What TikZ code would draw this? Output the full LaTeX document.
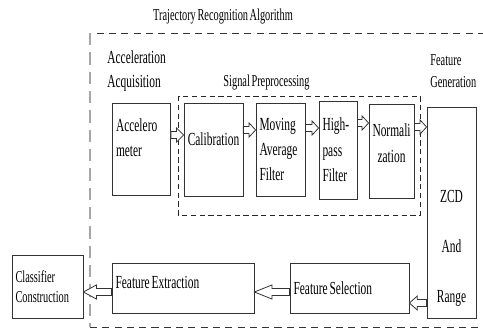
\documentclass[tikz,border=0pt]{standalone}
\usepackage{fontspec}
\setmainfont{Liberation Serif}[FakeStretch=0.62,WordSpace=0.62]
\usetikzlibrary{calc}
\tikzset{
  procbox/.style={draw=black!80,line width=0.45pt,fill=white,inner xsep=2pt,
                  inner ysep=2pt,font=\fontsize{10.5pt}{14.5pt}\selectfont,
                  execute at begin node={\spaceskip=0pt\xspaceskip=0pt\relax}},
  grouplabel/.style={inner sep=0pt,align=left,
                     font=\fontsize{9.5pt}{12.5pt}\selectfont},
  outerdash/.style={line width=0.55pt,draw=black!80,dash pattern=on 4pt off 3pt},
  innerdash/.style={line width=0.45pt,draw=black!85,dash pattern=on 3pt off 2pt},
  blockarr/.style={draw=black!80,fill=white,line width=0.45pt,
    to path={let \p1=(\tikztostart),\p2=(\tikztotarget),
      \n1={veclen(\x2-\x1,\y2-\y1)},\n2={atan2(\y2-\y1,\x2-\x1)} in
      {[shift={(\p1)},rotate=\n2]
       (0pt,2pt) -- (\n1-#1,2pt) -- (\n1-#1,4pt) -- (\n1,0pt)
       -- (\n1-#1,-4pt) -- (\n1-#1,-2pt) -- (0pt,-2pt) -- cycle}}},
  blockarr/.default=3.7pt
}

\begin{document}
\begin{tikzpicture}[x=0.02cm,y=-0.02cm]
    \useasboundingbox (0,0) rectangle (483,335);

    % frames
    \draw[outerdash] (485,33) -- (90,33);
    \draw[outerdash,draw=gray!70,line width=0.8pt,dash pattern=on 7pt off 4pt]
      (90,33) -- (90,327);
    \draw[outerdash] (90,327) -- (485,327);
    \draw[innerdash] (178,96) rectangle (420,215);

    \node[grouplabel,font=\fontsize{9.5pt}{12pt}\selectfont] (title) at (223,17)
      {Trajectory Recognition Algorithm};
    \node[grouplabel,anchor=west,font=\fontsize{10.5pt}{13.7pt}\selectfont]
      (acqlabel) at (107,71) {Acceleration\\Acquisition};
    \node[grouplabel] (prelabel) at (266.5,83) {Signal Preprocessing};
    \node[grouplabel,anchor=west] (genlabel) at (430,71)
      {Feature\\Generation};

    % top row
    \node[procbox,minimum width=1.16cm,minimum height=1.84cm,text width=1.02cm,
          align=left] (acc) at (141.5,149)
      {Accelero\\meter\rule[-0.46cm]{0pt}{0pt}};
    \node[procbox,minimum width=1.18cm,minimum height=1.86cm,text depth=0.4cm]
      (cal) at (213.5,149.5) {Calibration};
    \node[procbox,minimum width=0.98cm,minimum height=1.86cm,text width=0.84cm,
          align=left] (mov) at (280.5,149.5) {Moving\\Average\\Filter};
    \node[procbox,minimum width=0.76cm,minimum height=1.96cm,text width=0.62cm,
          align=left] (hp) at (338,150) {High-\\pass\\Filter};
    \node[procbox,minimum width=0.9cm,minimum height=1.88cm,text width=0.76cm,
          align=center] (norm) at (391.5,151)
      {Normali\\zation\rule[-0.32cm]{0pt}{0pt}};
    \node[procbox,minimum width=0.98cm,minimum height=4.22cm,text width=0.84cm,
          align=center] (zcd) at (451.5,212.5)
      {\rule{0pt}{1.68cm}ZCD\\[14pt]And\\[14pt]Range};

    % bottom row
    \node[procbox,minimum width=2.38cm,minimum height=1cm,text width=2.24cm,
          align=flush left] (fsel) at (349.5,288) {Feature Selection};
    \node[procbox,minimum width=2.84cm,minimum height=1cm,text width=2.70cm,
          align=flush left,text depth=0.22cm] (fext) at (183,288)
      {Feature Extraction};
    \node[procbox,minimum width=1.42cm,minimum height=1.26cm,text width=1.28cm,
          align=left,font=\fontsize{9.5pt}{11.5pt}\selectfont] (clf)
      at (47.5,286.5) {Classifier\\Construction};

    \draw[blockarr=4pt] (acc.east |- 0,135) to (cal.west |- 0,135);
    \draw[blockarr] (cal.east |- 0,130) to (mov.west |- 0,130);
    \draw[blockarr] (mov.east |- 0,128) to (hp.west |- 0,128);
    \draw[blockarr] (hp.east |- 0,123) to (norm.west |- 0,123);
    \draw[blockarr] (norm.east |- 0,127) to (zcd.west |- 0,127);
    \draw[blockarr=4.5pt] (zcd.west |- 0,303) to (fsel.east |- 0,303);
    \draw[blockarr=10pt] (fsel.west |- 0,292) to (fext.east |- 0,292);
    \draw[blockarr=7.4pt] (fext.west |- 0,292) to (clf.east |- 0,292);
\end{tikzpicture}
\end{document}
